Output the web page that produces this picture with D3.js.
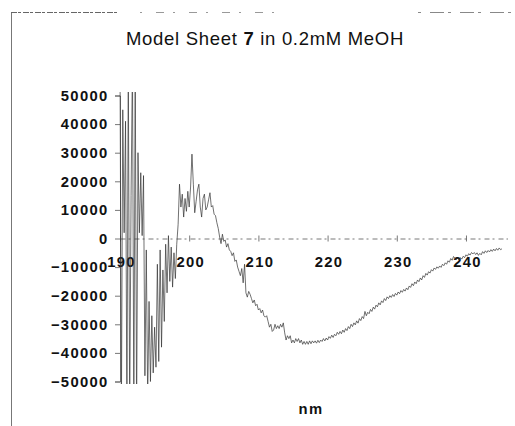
<!DOCTYPE html>
<html>
<head>
<meta charset="utf-8">
<title>Model Sheet 7 in 0.2mM MeOH</title>
<script src="https://d3js.org/d3.v7.min.js"></script>
<style>
body { margin:0; background:#fff; }
.lbl { font-family:"Liberation Sans", Arial, sans-serif; font-weight:bold; font-size:14.8px; letter-spacing:1.3px; fill:#111; }
</style>
</head>
<body>
<script>
// spectrum sampled every 0.2 nm starting at 190 nm
var nmStart = 190;
var nmStep = 0.2;
var cdValues = [
  62000, -62000, 45000, 2000, 41000, -62000, 62000, -62000, 15000, 62000,
  -62000, 62000, -62000, 30000, 2000, 23000, 1000, 22000, -48000, -4000,
  -56000, -22000, -50000, -27000, -47000, -31000, -45000, -9000, -43000, -4000,
  -38000, -11000, -29000, -2000, -19000, 1000, -15000, -3000, -17000, -5000,
  -14000, -2000, 5000, 19000, 11000, 15500, 7500, 14000, 9500, 16500,
  11000, 18000, 29500, 19000, 9000, 13000, 17000, 19000, 11000, 7500,
  14000, 15500, 10000, 11000, 13500, 16000, 11000, 11500, 8500, 8000,
  5500, 3500, 500, -1800, 1500, -1000, -500, -3000, -1800, -4000,
  -4500, -6000, -5000, -8000, -7500, -10000, -11500, -13000, -10500, -15500,
  -9000, -19000, -20500, -18500, -19500, -21000, -22500, -21500, -23500, -23000,
  -25000, -24500, -26000, -25000, -27000, -27500, -27000, -29000, -31000, -30000,
  -32500, -32000, -30000, -31500, -30500, -31500, -30000, -31000, -29500, -33000,
  -35500, -34000, -35000, -34000, -36500, -35500, -36500, -35000, -36000, -35000,
  -36500, -35500, -37000, -36000, -37000, -36000, -37000, -35800, -36800, -35800,
  -36500, -35800, -36600, -35600, -36400, -35500, -36000, -35000, -35800, -34800,
  -35500, -34300, -34900, -33800, -34600, -33500, -34000, -32800, -33500, -32500,
  -33300, -32000, -32800, -31500, -32200, -30800, -31500, -30000, -30800, -29500,
  -30200, -28800, -29600, -28000, -28700, -27300, -28000, -25500, -27000, -25800,
  -26300, -24800, -25500, -24000, -24700, -23300, -23900, -22500, -23200, -21800,
  -22400, -21000, -21700, -20400, -21000, -20000, -20600, -19600, -20300, -19200,
  -19800, -18700, -19300, -18200, -18800, -17800, -18400, -17300, -17900, -16600,
  -17100, -15800, -16500, -15200, -15800, -14500, -15100, -13800, -14500, -13000,
  -13600, -12200, -12800, -11600, -12100, -10900, -11400, -10300, -10800, -9900,
  -10400, -9600, -10100, -9000, -9500, -8500, -9000, -7800, -8300, -7000,
  -7600, -6300, -6900, -7400, -6800, -7500, -6700, -7200, -6200, -6700,
  -5700, -6200, -5300, -5800, -4900, -5400, -4900, -5600, -5000, -5900,
  -5200, -5700, -4600, -5200, -4300, -4900, -4200, -4700, -3900, -4500,
  -3700, -4300, -3500, -4100, -3300, -3900, -3600
];
var xTicks = [190, 200, 210, 220, 230, 240];
var yTicks = [50000, 40000, 30000, 20000, 10000, 0, -10000, -20000, -30000, -40000, -50000];

var width = 515;
var height = 426;
var svg = d3.select("body")
  .append("svg")
  .attr("width", width)
  .attr("height", height);

// page frame (scanned look)
svg.append("line")
  .attr("x1", 11.5).attr("y1", 12).attr("x2", 11.5).attr("y2", height)
  .style("stroke", "#777").style("stroke-width", 1);
svg.append("line")
  .attr("x1", 11).attr("y1", 12.5).attr("x2", 118).attr("y2", 12.5)
  .style("stroke", "#666").style("stroke-width", 1).style("stroke-dasharray", "6,1,3,2");
svg.append("line")
  .attr("x1", 140).attr("y1", 12.5).attr("x2", 280).attr("y2", 12.5)
  .style("stroke", "#999").style("stroke-width", 1).style("stroke-dasharray", "2,14,8,9");
svg.append("line")
  .attr("x1", 418).attr("y1", 12.5).attr("x2", width).attr("y2", 12.5)
  .style("stroke", "#888").style("stroke-width", 1).style("stroke-dasharray", "3,9,14,4");

// title
var title = svg.append("text")
  .attr("x", 265).attr("y", 45)
  .attr("text-anchor", "middle")
  .style("font-family", "'Liberation Sans', Arial, sans-serif")
  .style("font-size", "18.5px")
  .style("letter-spacing", "0.7px")
  .style("fill", "#111");
title.append("tspan").text("Model Sheet ");
title.append("tspan").style("font-weight", "bold").text("7");
title.append("tspan").text(" in 0.2mM MeOH");

var x = d3.scaleLinear().domain([190, 246]).range([120, 507.5]);
var y = d3.scaleLinear().domain([-50000, 50000]).range([381.5, 95.5]);

// y axis
var yAxis = svg.append("g")
  .attr("transform", "translate(" + x(190) + ",0)")
  .call(d3.axisLeft(y).tickValues(yTicks).tickSize(5).tickPadding(8).tickFormat(d3.format("d")));
yAxis.select(".domain").style("stroke", "#444").style("stroke-width", 0.7);
yAxis.selectAll(".tick line").style("stroke", "#555").style("stroke-width", 0.8);
yAxis.selectAll(".tick text").attr("class", "lbl").attr("dx", 1.5);

// x axis along zero
var xAxis = svg.append("g")
  .attr("transform", "translate(0," + y(0) + ")")
  .call(d3.axisBottom(x).tickValues(xTicks).tickSize(0).tickPadding(18).tickFormat(d3.format("d")));
xAxis.select(".domain").style("stroke", "#555").style("stroke-width", 0.8).style("stroke-dasharray", "5,3,2,4");
xAxis.selectAll(".tick line").attr("y1", -3).attr("y2", 3).style("stroke", "#555").style("stroke-width", 0.8);
xAxis.selectAll(".tick text").attr("class", "lbl").attr("dx", 1);

svg.append("text")
  .attr("class", "lbl")
  .attr("x", 311).attr("y", 414)
  .attr("text-anchor", "middle")
  .text("nm");

// clip the trace to the plotting window
svg.append("clipPath").attr("id", "plotclip")
  .append("rect")
  .attr("x", 110).attr("y", 92).attr("width", 400).attr("height", 292);

var line = d3.line()
  .x(function(d, i) { return x(nmStart + i * nmStep); })
  .y(function(d) { return y(d); });

svg.append("path")
  .datum(cdValues)
  .attr("clip-path", "url(#plotclip)")
  .attr("d", line)
  .style("fill", "none")
  .style("stroke", "#333")
  .style("stroke-width", 0.7);
</script>
</body>
</html>
